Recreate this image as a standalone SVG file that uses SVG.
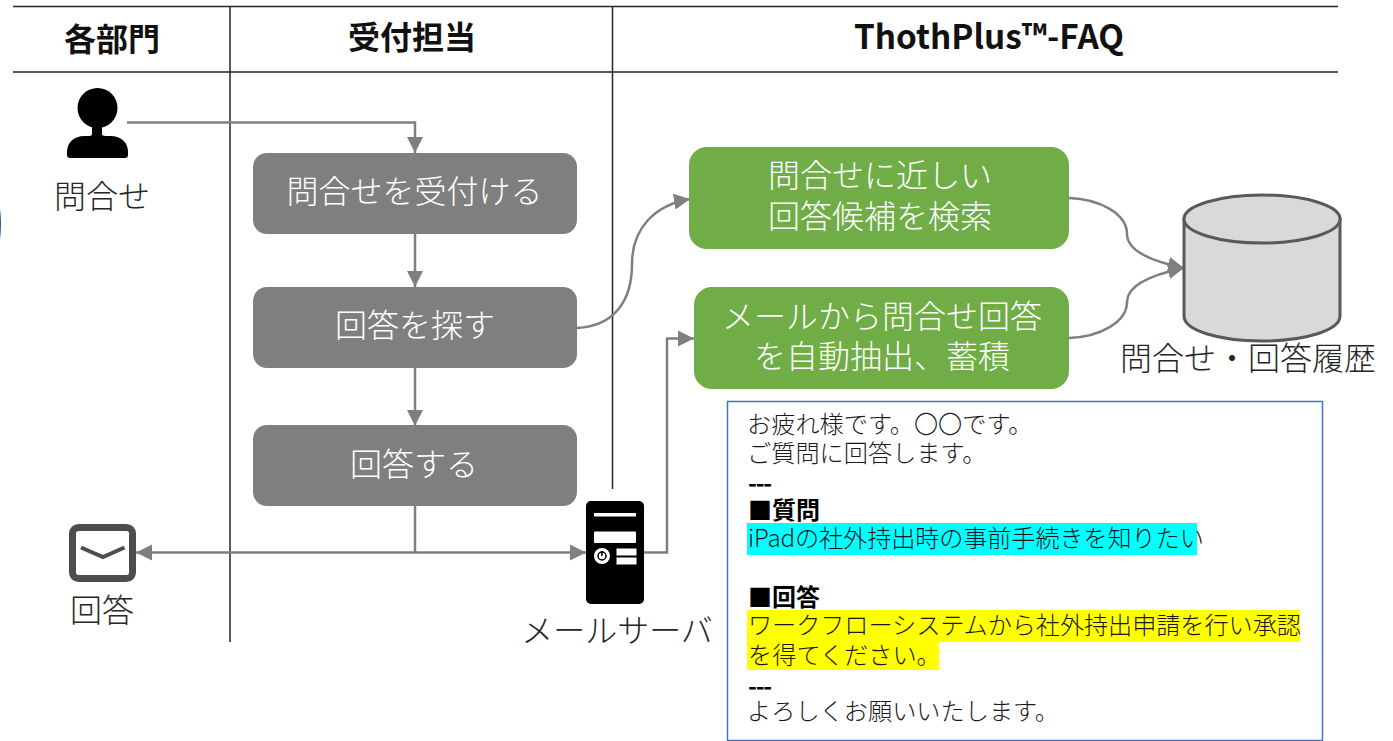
<svg xmlns="http://www.w3.org/2000/svg" width="1393" height="741" viewBox="0 0 1393 741">
<style>
text{font-family:"Noto Sans CJK JP","Noto Sans",sans-serif;fill:#262626}
.lbl{font-size:32px;font-weight:300;text-anchor:middle}
.hd{font-size:32px;font-weight:700;text-anchor:middle;fill:#111}
.wh{font-size:32px;font-weight:300;text-anchor:middle;fill:#fff}
.m{font-size:24.200px;font-weight:300;fill:#1a1a1a}
.mb{font-size:24px;font-weight:700;fill:#000}
.dash{letter-spacing:-1.200px}
.grid{stroke:#262626;stroke-width:1.5;fill:none}
.c{stroke:#7f7f7f;stroke-width:2.5;fill:none}
.ca{marker-end:url(#a)}
.gray{fill:#7f7f7f}
.green{fill:#70ad47}
</style>
<defs><marker id="a" markerUnits="userSpaceOnUse" markerWidth="17" markerHeight="18" refX="16" refY="9" orient="auto"><path d="M0 1L16 9L0 17Z" fill="#7f7f7f"/></marker></defs>
<rect width="1393" height="741" fill="#fff"/>
<g id="grid">
<path class="grid" d="M13 6.5H1338M13 72H1338M230 6V642M612.500 6V489"/>
<path d="M0 209Q2 224 0 239Z" fill="#2f5597"/>
</g>
<g id="headers">
<text class="hd" x="112" y="51">各部門</text>
<text class="hd" x="412" y="49">受付担当</text>
<text class="hd" style="font-size:33.300px" x="989" y="49">ThothPlus™-FAQ</text>
</g>
<g id="connectors">
<path class="c ca" d="M127 122.500H415V153"/>
<path class="c ca" d="M415 234V287"/>
<path class="c ca" d="M415 368V426"/>
<path class="c" d="M415 506V552"/>
<path class="c ca" d="M415 552.500H136"/>
<path class="c ca" d="M415 552.500H586"/>
<path class="c ca" d="M644 552.500H667V338.500H694"/>
<path class="c ca" d="M577 328C615 326 632 300 632 264C632 228 655 205 690 199"/>
<path class="c ca" d="M1069 198C1100 199 1127 214 1127 234C1127 250 1150 261 1184 268"/>
<path class="c ca" d="M1069 338C1100 337 1127 322 1127 302C1127 286 1150 275 1184 268"/>
</g>
<g id="n-toiawase">
<circle cx="97.500" cy="108" r="20" fill="#000"/>
<path d="M92 122H102V134C102 136 105 136 110 136C122 136 128 143 128 152V155Q128 158 125 158H70Q67 158 67 155V152C67 143 73 136 85 136C90 136 92 136 92 134Z" fill="#000"/>
<text class="lbl" x="102" y="208">問合せ</text>
</g>
<g id="n-kaitou-mail">
<rect x="72.500" y="527.500" width="60" height="51" rx="6" fill="#fff" stroke="#4d4d4d" stroke-width="7"/>
<path d="M81 547.500L103 557L124.500 547.500" fill="none" stroke="#4d4d4d" stroke-width="4"/>
<text class="lbl" x="102" y="622">回答</text>
</g>
<g id="n-uketsuke">
<rect class="gray" x="253" y="153" width="324" height="81" rx="14"/>
<text class="wh" x="414.500" y="203">問合せを受付ける</text>
</g>
<g id="n-sagasu">
<rect class="gray" x="253" y="287" width="324" height="81" rx="14"/>
<text class="wh" x="415" y="337">回答を探す</text>
</g>
<g id="n-kaitousuru">
<rect class="gray" x="253" y="425" width="324" height="81" rx="14"/>
<text class="wh" x="414" y="476">回答する</text>
</g>
<g id="n-server">
<rect x="586" y="501" width="58" height="103" rx="5" fill="#000"/>
<rect x="594" y="513" width="42" height="3.500" fill="#fff"/>
<rect x="594" y="531.500" width="42" height="11.500" rx="1" fill="#fff"/>
<rect x="616.500" y="548.500" width="20" height="7" fill="#fff"/>
<rect x="616.500" y="557.500" width="20" height="7" fill="#fff"/>
<circle cx="602" cy="556" r="8" fill="#fff"/>
<circle cx="602" cy="556" r="4" fill="none" stroke="#000" stroke-width="1.500"/>
<path d="M602 551V556" stroke="#000" stroke-width="1.500"/>
<text class="lbl" x="617" y="642">メールサーバ</text>
</g>
<g id="n-search">
<rect class="green" x="689" y="147" width="380" height="102" rx="18"/>
<text class="wh" x="880" y="187">問合せに近しい</text>
<text class="wh" x="880" y="228">回答候補を検索</text>
</g>
<g id="n-extract">
<rect class="green" x="694" y="287" width="375" height="102" rx="18"/>
<text class="wh" x="882" y="328">メールから問合せ回答</text>
<text class="wh" x="882" y="368">を自動抽出、蓄積</text>
</g>
<g id="n-db">
<path d="M1184 219V316C1184 330 1218 341 1262 341C1306 341 1340 330 1340 316V219Z" fill="#d9d9d9" stroke="#595959" stroke-width="3"/>
<ellipse cx="1262" cy="219" rx="78" ry="24" fill="#d9d9d9" stroke="#595959" stroke-width="3"/>
<text class="lbl" x="1248" y="370">問合せ・回答履歴</text>
</g>
<g id="n-mail">
<rect x="727.500" y="401.500" width="595" height="339" fill="#fff" stroke="#4472c4" stroke-width="1.500"/>
<rect x="747" y="523" width="450" height="32" fill="#0ff"/>
<rect x="747" y="610" width="553" height="32" fill="#ff0"/>
<rect x="747" y="642" width="192" height="28" fill="#ff0"/>
<text class="m" x="747" y="433">お疲れ様です。〇〇です。</text>
<text class="m" x="747" y="462">ご質問に回答します。</text>
<text class="mb dash" x="748" y="492">---</text>
<text class="mb" x="748" y="519">■質問</text>
<text class="m" style="letter-spacing:-.15px" x="748" y="547">iPadの社外持出時の事前手続きを知りたい</text>
<text class="mb" x="748" y="606">■回答</text>
<text class="m" style="letter-spacing:-.1px" x="748" y="634">ワークフローシステムから社外持出申請を行い承認</text>
<text class="m" x="748" y="664">を得てください。</text>
<text class="mb dash" x="748" y="695">---</text>
<text class="m" x="747" y="720">よろしくお願いいたします。</text>
</g>
</svg>
